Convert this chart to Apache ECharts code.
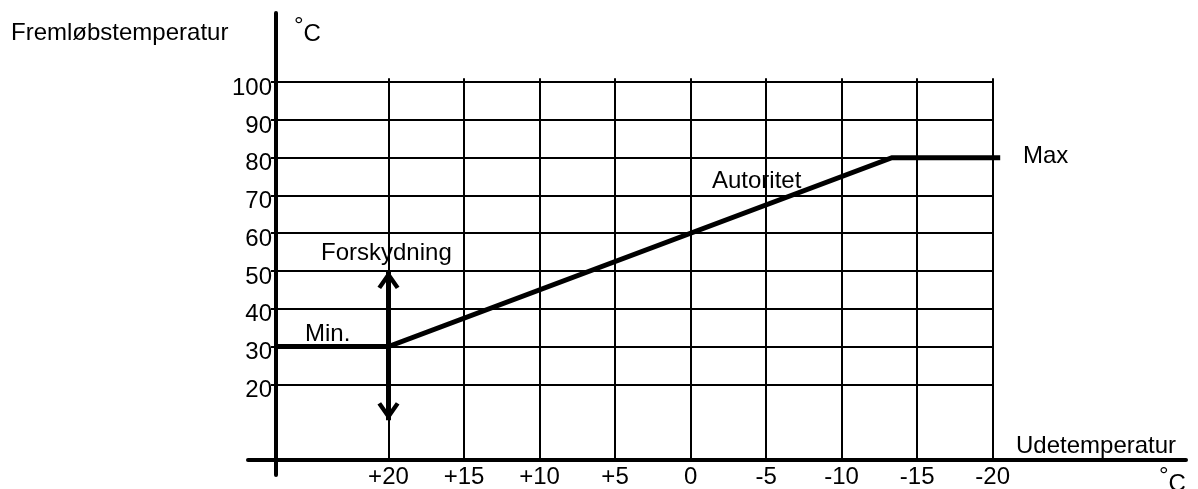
<!DOCTYPE html>
<html>
<head>
<meta charset="utf-8">
<script src="https://cdn.jsdelivr.net/npm/echarts@6/dist/echarts.min.js"></script>
<style>
html,body{margin:0;padding:0;background:#fff;}
#c{width:1198px;height:489px;}
</style>
</head>
<body>
<div id="c"></div>
<script>
// ---- data ----
const xTicks = [20, 15, 10, 5, 0, -5, -10, -15, -20];
const xTickLabels = ['+20', '+15', '+10', '+5', '0', '-5', '-10', '-15', '-20'];
const yTicks = [20, 30, 40, 50, 60, 70, 80, 90, 100];
const yTickLabels = ['20', '30', '40', '50', '60', '70', '80', '90', '100'];
const curveX = [27.5, 20, -13.33, -20.5];   // udetemperatur
const curveY = [30, 30, 80, 80];            // fremløbstemperatur
const arrowX = 20;
const arrowTop = 50;
const arrowBottom = 10.5;
const gridXFrom = 27.5, gridXTo = -20;      // horizontal grid line extent (°C ude)
const gridYFrom = 0, gridYTo = 101;         // vertical grid line extent (°C frem)

// ---- styling ----
const FONT = 'Liberation Sans, Arial, Helvetica, sans-serif';
const FS = 24;
const BLACK = '#000';

const chart = echarts.init(document.getElementById('c'), null, {renderer: 'canvas'});

function txt(text, left, top) {
  return {
    text: text, left: left, top: top, padding: 0,
    textStyle: {fontFamily: FONT, fontSize: FS, fontWeight: 'normal', color: BLACK}
  };
}
const degRich = {
  d: {fontFamily: FONT, fontSize: FS, fontWeight: 'normal', color: BLACK, verticalAlign: 'top', lineHeight: FS},
  c: {fontFamily: FONT, fontSize: FS, fontWeight: 'normal', color: BLACK, verticalAlign: 'top', lineHeight: FS, padding: [8, 0, 0, 0]}
};
function deg(left, top) {
  return {text: '{d|°}{c|C}', left: left, top: top, padding: 0,
    textStyle: {fontFamily: FONT, fontSize: FS, fontWeight: 'normal', color: BLACK, rich: degRich}};
}

const arrowPath = 'path://M10,0 L10.02,0 L10,0.02 Z M10,20 L20,35 L16.7,37.2 L12.2,30.5 L12.2,40 L7.8,40 L7.8,30.5 L3.3,37.2 L0,35 Z';

const option = {
  animation: false,
  backgroundColor: '#fff',
  title: [
    txt('Fremløbstemperatur', 11, 21),
    deg(294, 14),
    txt('Udetemperatur', 1016, 434),
    deg(1159, 464),
    txt('Max', 1023, 144),
    txt('Autoritet', 712, 169),
    txt('Forskydning', 321, 241),
    txt('Min.', 305, 322)
  ],
  grid: {left: 248, right: 12, top: 13, bottom: 14, containLabel: false, outerBoundsMode: 'none'},
  xAxis: {
    type: 'value', inverse: true, min: -32.8, max: 29.3,
    offset: -15,
    axisLine: {show: true, onZero: false, lineStyle: {color: BLACK, width: 4}},
    axisTick: {show: false},
    splitLine: {show: false},
    axisLabel: {
      show: true, customValues: xTicks, margin: 5,
      fontFamily: FONT, fontSize: FS, color: BLACK,
      formatter: function (v) { const i = xTicks.indexOf(v); return i >= 0 ? xTickLabels[i] : ''; }
    }
  },
  yAxis: {
    type: 'value', min: -4, max: 118.3,
    offset: -28,
    axisLine: {show: true, onZero: false, lineStyle: {color: BLACK, width: 4}},
    axisTick: {show: true, customValues: yTicks, length: 5, lineStyle: {color: BLACK, width: 2}},
    splitLine: {show: false},
    axisLabel: {
      show: true, customValues: yTicks, margin: 4,
      fontFamily: FONT, fontSize: FS, color: BLACK,
      verticalAlign: 'top', lineHeight: 12,
      formatter: function (v) { const i = yTicks.indexOf(v); return i >= 0 ? yTickLabels[i] : ''; }
    }
  },
  series: [
    {
      name: 'grid', type: 'line', data: [], z: 1, silent: true,
      markLine: {
        silent: true, symbol: 'none', animation: false,
        label: {show: false}, emphasis: {disabled: true},
        lineStyle: {color: BLACK, width: 2, type: 'solid'},
        data: xTicks.map(v => [{coord: [v, gridYFrom]}, {coord: [v, gridYTo]}])
          .concat(yTicks.map(v => [{coord: [gridXFrom, v]}, {coord: [gridXTo, v]}]))
      }
    },
    {
      name: 'curve', type: 'line', z: 3, silent: true,
      data: curveX.map((x, i) => [x, curveY[i]]),
      showSymbol: false, symbol: 'none',
      lineStyle: {color: BLACK, width: 5, cap: 'butt', join: 'miter'},
      emphasis: {disabled: true}
    },
    {
      name: 'arrow', type: 'line', data: [], z: 4, silent: true,
      markLine: {
        silent: true, animation: false,
        symbol: [arrowPath, arrowPath], symbolSize: [22, 42],
        label: {show: false}, emphasis: {disabled: true},
        lineStyle: {color: BLACK, width: 5, type: 'solid'},
        itemStyle: {color: BLACK},
        data: [[{coord: [arrowX, arrowTop]}, {coord: [arrowX, arrowBottom]}]]
      }
    }
  ]
};
chart.setOption(option);
</script>
</body>
</html>
